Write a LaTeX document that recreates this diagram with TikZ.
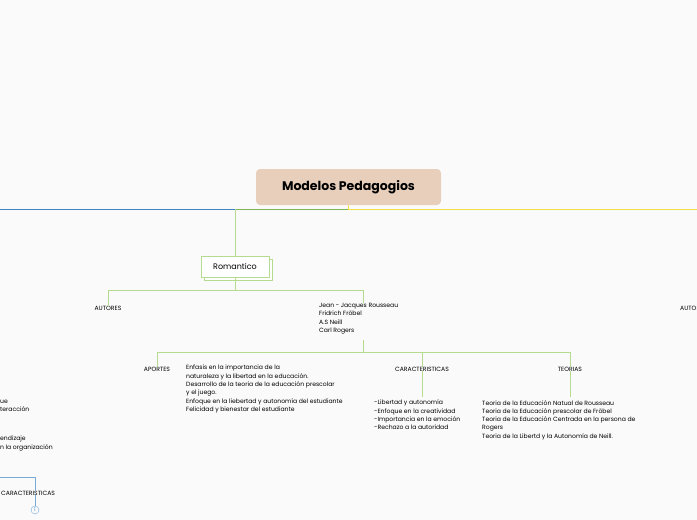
\documentclass[tikz,border=0pt]{standalone}
\usepackage{fontspec}
\setmainfont{Poppins}
\usetikzlibrary{positioning}
\definecolor{rootfill}{HTML}{E8CFBC}
\definecolor{branchgreen}{HTML}{B5DC8E}
\definecolor{darkgreen}{HTML}{7FB356}
\definecolor{branchblue}{HTML}{3C86C4}
\definecolor{branchyellow}{HTML}{F2DE45}
\begin{document}
\begin{tikzpicture}[x=1pt, y=-1pt,
    txt/.style={font=\fontsize{6.1}{8.3}\selectfont, inner sep=0pt, anchor=north west, align=left},
    lbl/.style={font=\fontsize{6.1}{7}\selectfont, inner sep=0pt},
    conn/.style={branchgreen, line width=1pt},
    rootbox/.style={fill=rootfill, rounded corners=4pt, minimum width=185pt, minimum height=36pt, font=\bfseries\fontsize{12.5}{14}\selectfont},
    topicbox/.style={draw=branchgreen, fill=white, line width=1pt, minimum width=68pt, minimum height=21pt, font=\fontsize{8}{10}\selectfont}]
    \useasboundingbox (0,0) rectangle (697,520);
    \fill[white!98!black] (0,0) rectangle (697,520);
        \node[rootbox] (root) at (348.5,187) {Modelos Pedagogios};
        \draw[topicbox] (204,259) rectangle (272,280);
        \node[topicbox] (rom) at (235,266.5) {Romantico};
        \node[lbl] (autores) at (108,308) {AUTORES};
        \node[txt] (nombres) at (319,303) {Jean - Jacques Rousseau\\Fridrich Fröbel\\A.S Neill\\Carl Rogers};
        \node[lbl] (aportes) at (157,369) {APORTES};
        \node[txt] (aptxt) at (186,365) {Enfasis en la importancia de la\\naturaleza y la libertad en la educación.\\Desarrollo de la teoria de la educación prescolar\\y el juego.\\Enfoque en la liebertad y autonomía del estudiante\\Felicidad y bienestar del estudiante};
        \node[lbl] (carac) at (422,369) {CARACTERISTICAS};
        \node[txt] (cartxt) at (374,400) {-Libertad y autonomía\\-Enfoque en la creatividad\\-Importancia en la emoción\\-Rechazo a la autoridad};
        \node[lbl] (teorias) at (570,369) {TEORIAS};
        \node[txt] (teotxt) at (482,400) {Teoria de la Educación Natual de Rousseau\\Teoria de la Educación prescolar de Fröbel\\Teoria de la Educación Centrada en la persona de\\Rogers\\Teoria de la Libertd y la Autonomía de Neill.};
        % partes cortadas
        \node[txt] (izq1) at (0,400) {ue\\teracción};
        \node[txt] (izq2) at (0,436) {endizaje\\n la organización};
        \node[lbl, anchor=west] (izqcar) at (1,493) {CARACTERISTICAS};
        \node[lbl, anchor=west] (derautores) at (680,308) {AUTORES};
        \node[draw=branchblue!70, circle, inner sep=0.6pt, minimum size=8pt, font=\fontsize{5}{5}\selectfont, text=branchblue] (uno) at (35,510) {1};
        % conectores
        \draw[branchblue, line width=0.8pt] (0,209) -- (235,209);
        \draw[darkgreen, line width=0.8pt] (235,209) -| (root.south);
        \draw[branchyellow, line width=0.8pt] (root.south) |- (697,209);
        \draw[conn] (235,209) -- (rom.north);
        \draw[conn] (rom.south) -- (235,290) -| (autores.north);
        \draw[conn] (235,290) -| (nombres.north -| 363,0);
        \draw[conn] (363,340) -- (363,352) -| (aportes.north);
        \draw[conn] (363,352) -| (carac.north);
        \draw[conn] (363,352) -| (teorias.north);
        \draw[conn] (carac.south) -- (422,397);
        \draw[conn] (teorias.south) -- (570,397);
        \draw[branchblue!70, line width=0.8pt] (0,477) -| (izqcar.north -| 35,0);
        \draw[branchblue!70, line width=0.6pt] (izqcar.south -| 35,0) -- (uno);
    \end{tikzpicture}
\end{document}
